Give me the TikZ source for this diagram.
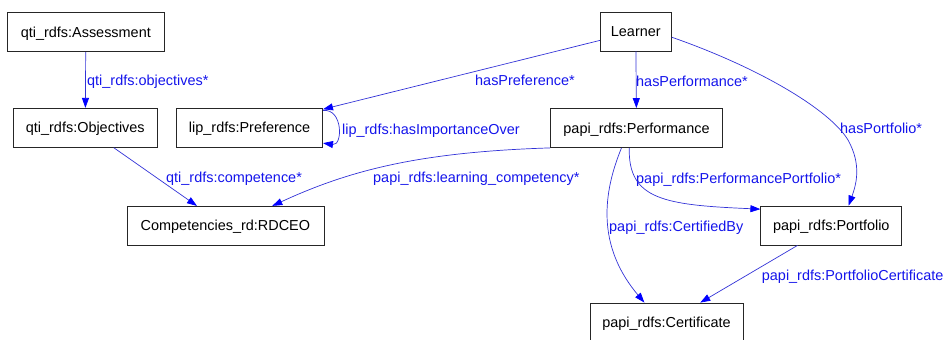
\documentclass[tikz,border=0pt]{standalone}
\usepackage{fontspec}
\setmainfont{Liberation Sans}
\usepackage{tikz}
\usetikzlibrary{arrows.meta}
\definecolor{relblue}{RGB}{50,50,215}
\definecolor{lblblue}{RGB}{20,20,235}

\begin{document}
\begin{tikzpicture}[x=1bp,y=-1bp,
		cls/.style={draw=black!85,line width=0.8bp,minimum height=39bp,inner sep=0pt,text height=12bp,text depth=2bp},
		rel/.style={draw=relblue,line width=0.7bp,-{Triangle[length=10bp,width=7bp,color=blue]}},
		lbl/.style={text=lblblue,inner sep=0pt,anchor=base west}]
				\useasboundingbox (0,0) rectangle (952,339);
				\clip (0,0) rectangle (952,339);
				\begin{scope}[every node/.style={cls,font=\fontsize{14.5}{17}\selectfont}]
					\node[minimum width=157bp] (Assess) at (85.8,32.2) {qti\_rdfs:Assessment};
					\node[minimum width=144bp] (Obj) at (85.3,127.8) {qti\_rdfs:Objectives};
					\node[minimum width=146bp] (Pref) at (249.6,127.5) {lip\_rdfs:Preference};
					\node[minimum width=71bp] (Learner) at (635.8,31.5) {Learner};
					\node[minimum width=172bp] (Perf) at (636.5,128) {papi\_rdfs:Performance};
					\node[minimum width=197bp] (RDCEO) at (225.4,225.8) {Competencies\_rd:RDCEO};
					\node[minimum width=141bp] (Port) at (831.3,225.5) {papi\_rdfs:Portfolio};
					\node[minimum width=153bp] (Cert) at (666.5,322.5) {papi\_rdfs:Certificate};
				\end{scope}
			
				\begin{scope}[every node/.style={lbl,font=\fontsize{14.5}{17}\selectfont}]
					\node (lObj) at (87,85) {qti\_rdfs:objectives*};
					\node (lPref) at (475,85.7) {hasPreference*};
					\node (lPerf) at (636,86) {hasPerformance*};
					\node (lPort) at (840,133.3) {hasPortfolio*};
					\node (lImp) at (342,134.3) {lip\_rdfs:hasImportanceOver};
					\node (lComp) at (166,182.5) {qti\_rdfs:competence*};
					\node (lLearn) at (373,182.3) {papi\_rdfs:learning\_competency*};
					\node (lPP) at (636,183.3) {papi\_rdfs:PerformancePortfolio*};
					\node (lCert) at (609,231.7) {papi\_rdfs:CertifiedBy};
					\node (lPC) at (761.7,280) {papi\_rdfs:PortfolioCertificate};
					\coordinate (pbend) at (848,140);
				\end{scope}
			
				\begin{scope}
					\draw[rel] (Assess) -- (Obj);
					\draw[rel] (Learner) -- (Pref);
					\draw[rel] (Learner) -- (Perf);
					\draw[rel] (Learner.-9) .. controls (760,68) and (830,110) .. (pbend) .. controls (862,165) and (856,185) .. (Port.49);
					\draw[rel] (Pref.13) .. controls (343,108) and (343,146) .. (Pref.-12);
					\draw[rel] (Obj) -- (RDCEO);
					\draw[rel] (Perf.south west) .. controls (420,152) and (350,170) .. (RDCEO.23);
					\draw[rel] (Perf.-110) .. controls (628,200) and (665,205) .. (Port.167);
					\draw[rel] (Perf.-127) .. controls (600,200) and (600,250) .. (Cert.138);
					\draw[rel] (Port) -- (Cert);
				\end{scope}
			\end{tikzpicture}
\end{document}
